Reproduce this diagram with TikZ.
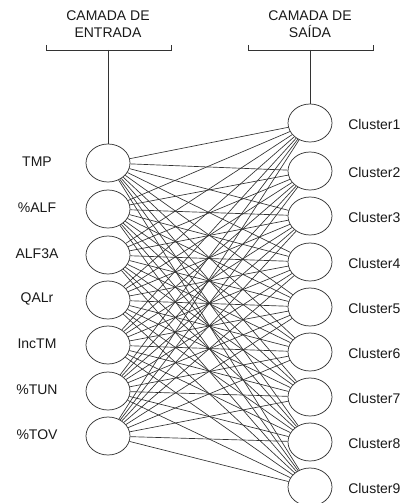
\documentclass[tikz,border=0pt]{standalone}
\usepackage{fontspec}
\setmainfont{Liberation Sans}
\usetikzlibrary{shapes.geometric}
\begin{document}
\begin{tikzpicture}[x=0.75pt,y=-0.75pt,
  neuron/.style={draw=black!80,ellipse,minimum width=33pt,minimum height=28.5pt,inner sep=0pt,line width=0.55pt},
  lbl/.style={font=\fontsize{10.5}{12.5}\selectfont,text=black!90,inner sep=0pt},
  title/.style={font=\fontsize{10.5}{12.8}\selectfont,text=black!90,align=center,inner sep=0pt},
  conn/.style={draw=black!80,line width=0.5pt},
  brk/.style={draw=black!80,line width=0.65pt}]
\useasboundingbox (0,0) rectangle (406,503);
% titles
\node[title] (t1) at (108,24) {CAMADA DE\\ENTRADA};
\node[title] (t2) at (310,24) {CAMADA DE\\SAÍDA};
% input nodes
\foreach \n/\y/\t in {1/163/TMP,2/209/\%ALF,3/255/ALF3A,4/300/QALr,5/345/IncTM,6/391/\%TUN,7/436/\%TOV}{
  \node[neuron] (i\n) at (108,\y) {};
  \node[lbl] (il\n) at (37,\y-1) {\t};
}
% output nodes
\foreach \n/\y in {1/123,2/171,3/216,4/262,5/307,6/352,7/397,8/442,9/487}{
  \node[neuron] (o\n) at (310,\y) {};
  \node[lbl,anchor=west] (ol\n) at (348,\y+1) {Cluster\n};
}
% brackets
\coordinate (bl1) at (46,45); \coordinate (bl2) at (46,50);
\coordinate (bl3) at (171,50); \coordinate (bl4) at (171,45);
\coordinate (blm) at (108,50);
\draw[brk] (bl1) -- (bl2) -- (bl3) -- (bl4);
\draw[brk] (blm) -- (i1);
\coordinate (br1) at (248,45); \coordinate (br2) at (248,50);
\coordinate (br3) at (373,50); \coordinate (br4) at (373,45);
\coordinate (brm) at (310,50);
\draw[brk] (br1) -- (br2) -- (br3) -- (br4);
\draw[brk] (brm) -- (o1);
% connections
\foreach \i in {1,...,7}{
  \foreach \o in {1,...,9}{
    \draw[conn] (i\i) -- (o\o);
  }
}
\end{tikzpicture}
\end{document}
